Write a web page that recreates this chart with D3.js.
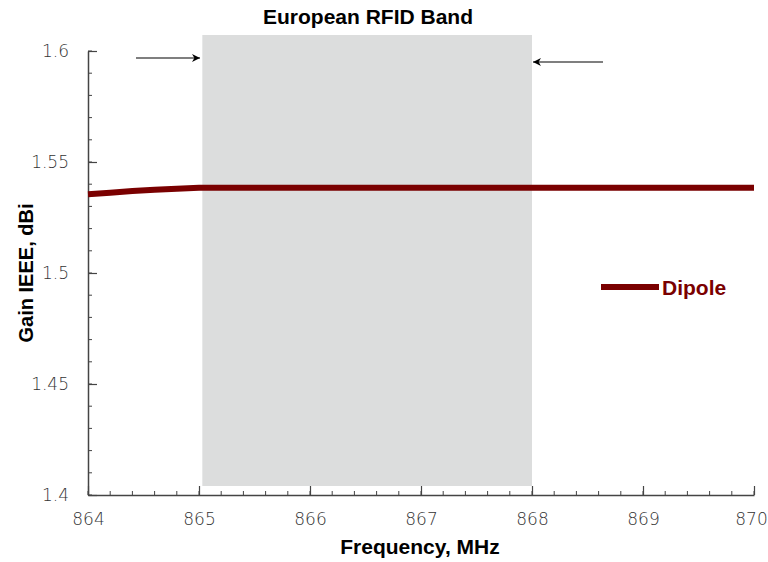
<!DOCTYPE html>
<html><head><meta charset="utf-8">
<script src="https://cdn.jsdelivr.net/npm/d3@7"></script>
<style>body{margin:0;background:#fff;}svg{display:block;font-family:"Liberation Sans",Arial,sans-serif;}</style>
</head><body><svg id="c" width="768" height="562"></svg>
<script>
const freq = [864, 864.2, 864.4, 864.6, 864.8, 865, 865.5, 866, 866.5, 867, 867.5, 868, 868.5, 869, 869.5, 870];
const gain = [1.5355, 1.5362, 1.5369, 1.5375, 1.5380, 1.5384, 1.5384, 1.5384, 1.5384, 1.5384, 1.5384, 1.5384, 1.5384, 1.5384, 1.5384, 1.5384];
const band = [865.03, 868];
const xTicks = [864, 865, 866, 867, 868, 869, 870];
const yTicks = [1.4, 1.45, 1.5, 1.55, 1.6];
const seriesName = "Dipole";

const svg = d3.select("#c");
const x = d3.scaleLinear().domain([864, 870]).range([88, 754]);
const y = d3.scaleLinear().domain([1.4, 1.6]).range([495, 51]);
const axisCol = "#444";

// band
svg.append("rect").attr("x", x(band[0])).attr("width", x(band[1]) - x(band[0]))
  .attr("y", 35).attr("height", 486 - 35).attr("fill", "#dcdddd");

// minor ticks
const xMinor = d3.range(864, 870.001, 0.2);
const yMinor = d3.range(1.4, 1.6001, 0.01);
const g = svg.append("g");
g.selectAll(".xm").data(xMinor).join("line")
  .attr("x1", d => x(d)).attr("x2", d => x(d)).attr("y1", y(1.4)).attr("y2", y(1.4) - 4)
  .attr("stroke", axisCol).attr("stroke-width", 1);
g.selectAll(".ym").data(yMinor).join("line")
  .attr("x1", x(864)).attr("x2", x(864) + 4).attr("y1", d => y(d)).attr("y2", d => y(d))
  .attr("stroke", axisCol).attr("stroke-width", 1);

// major axes
const xAxis = d3.axisBottom(x).tickValues(xTicks).tickSizeInner(-9).tickSizeOuter(0).tickPadding(16).tickFormat(d3.format("d"));
const yAxis = d3.axisLeft(y).tickValues(yTicks).tickSizeInner(-9).tickSizeOuter(0).tickPadding(19).tickFormat(d => String(d));
const gx = svg.append("g").attr("transform", `translate(0,${y(1.4)})`).call(xAxis);
const gy = svg.append("g").attr("transform", `translate(${x(864)},0)`).call(yAxis);
[gx, gy].forEach(a => {
  a.select(".domain").attr("stroke", axisCol).attr("stroke-width", 1.5);
  a.selectAll(".tick line").attr("stroke", axisCol).attr("stroke-width", 1.2);
  a.selectAll(".tick text").attr("fill", "#333").attr("font-size", 17).attr("font-family", "'DejaVu Sans', sans-serif").attr("font-weight", 200);
});
gx.selectAll(".tick text").attr("dy", "0.85em");
gx.selectAll(".tick text").filter(d => d === 870).attr("dx", -3);
gy.selectAll(".tick text").attr("dy", "0.35em");

// line
svg.append("path").datum(freq.map((f, i) => [f, gain[i]]))
  .attr("d", d3.line().x(d => x(d[0])).y(d => y(d[1])))
  .attr("fill", "none").attr("stroke", "#7a0000").attr("stroke-width", 6);

// arrows
const defs = svg.append("defs");
defs.append("marker").attr("id", "ah").attr("viewBox", "0 0 10 10").attr("refX", 10).attr("refY", 5)
  .attr("markerWidth", 10).attr("markerHeight", 8).attr("markerUnits", "userSpaceOnUse").attr("orient", "auto")
  .append("path").attr("d", "M0,0 L10,5 L0,10 L3,5 Z").attr("fill", "#000");
svg.append("line").attr("x1", 136).attr("y1", 58).attr("x2", 200).attr("y2", 58)
  .attr("stroke", "#000").attr("stroke-width", 1.2).attr("marker-end", "url(#ah)");
svg.append("line").attr("x1", 603).attr("y1", 62).attr("x2", 533).attr("y2", 62)
  .attr("stroke", "#000").attr("stroke-width", 1.2).attr("marker-end", "url(#ah)");

// title
svg.append("text").attr("x", 368).attr("y", 24).attr("text-anchor", "middle")
  .attr("font-weight", "bold").attr("font-size", 21).text("European RFID Band");

// axis titles
svg.append("text").attr("x", 420).attr("y", 554).attr("text-anchor", "middle")
  .attr("font-weight", "bold").attr("font-size", 21).text("Frequency, MHz");
svg.append("text").attr("transform", "translate(33,273) rotate(-90)").attr("text-anchor", "middle")
  .attr("font-weight", "bold").attr("font-size", 20).text("Gain IEEE, dBi");

// legend
svg.append("line").attr("x1", 601).attr("x2", 659).attr("y1", 287).attr("y2", 287)
  .attr("stroke", "#7a0000").attr("stroke-width", 6);
svg.append("text").attr("x", 662).attr("y", 295).attr("font-weight", "bold").attr("font-size", 21)
  .attr("fill", "#7a0000").text(seriesName);
</script></body></html>
